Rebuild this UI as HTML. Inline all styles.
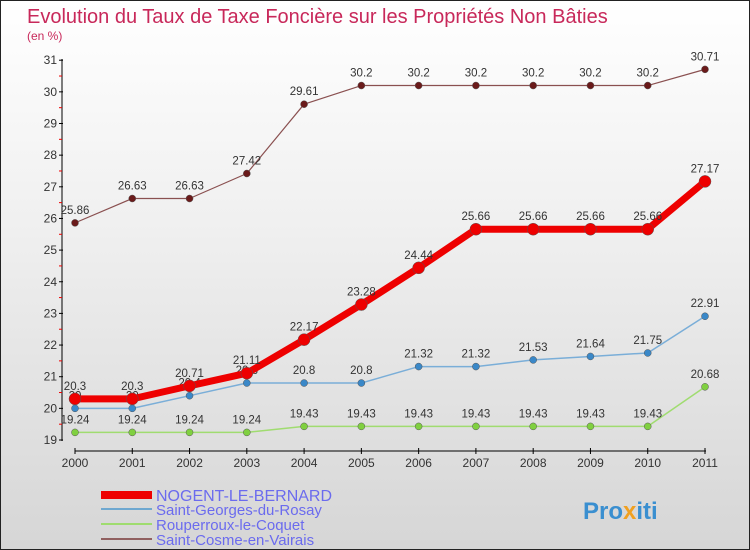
<!DOCTYPE html>
<html><head><meta charset="utf-8"><style>
body{margin:0}
#c{width:748px;height:548px;border:1px solid #222;background:linear-gradient(#fff,#f0f0f0 40%,#d6d6d6);position:relative;overflow:hidden;font-family:"Liberation Sans",sans-serif}
</style></head><body>
<div id="c">
<svg id="s" width="748" height="548">
<text x="26" y="22" font-size="20" fill="#c8285a" font-weight="300">Evolution du Taux de Taxe Foncière sur les Propriétés Non Bâties</text>
<text x="26" y="39" font-size="12" fill="#c8285a">(en %)</text>
<g id="g"></g>
<g>
<rect x="100" y="490" width="51" height="8" fill="#e00"/>
<text x="155" y="500" font-size="16" fill="#6b6bee">NOGENT-LE-BERNARD</text>
<rect x="100" y="507" width="51" height="2" fill="#6fa8d0"/>
<text x="155" y="514" font-size="15" fill="#6b6bee">Saint-Georges-du-Rosay</text>
<rect x="100" y="522" width="51" height="2" fill="#9fdc6f"/>
<text x="155" y="529" font-size="15" fill="#6b6bee">Rouperroux-le-Coquet</text>
<rect x="100" y="537" width="51" height="2" fill="#906060"/>
<text x="155" y="544" font-size="15" fill="#6b6bee">Saint-Cosme-en-Vairais</text>
</g>
<text x="582" y="518" font-size="24" font-weight="bold" fill="#3a8fd0">Pro<tspan fill="#f0a020">x</tspan>iti</text>
</svg>
</div>
<script>
const years=[2000,2001,2002,2003,2004,2005,2006,2007,2008,2009,2010,2011];
const nogent=[20.3,20.3,20.71,21.11,22.17,23.28,24.44,25.66,25.66,25.66,25.66,27.17];
const georges=[20,20,20.4,20.8,20.8,20.8,21.32,21.32,21.53,21.64,21.75,22.91];
const rouperroux=[19.24,19.24,19.24,19.24,19.43,19.43,19.43,19.43,19.43,19.43,19.43,20.68];
const cosme=[25.86,26.63,26.63,27.42,29.61,30.2,30.2,30.2,30.2,30.2,30.2,30.71];
const yTicks=[19,20,21,22,23,24,25,26,27,28,29,30,31];
const NS="http://www.w3.org/2000/svg";
const g=document.getElementById('g');
function X(i){return 74+i*(630/(years.length-1));}
function Y(v){return 439-(v-19)*31.65;}
function mk(t,a,p){const e=document.createElementNS(NS,t);for(const k in a)e.setAttribute(k,a[k]);(p||g).appendChild(e);return e;}
let ax=mk('line',{x1:61,y1:58,x2:61,y2:440,stroke:'#000'});


let xa=mk('line',{x1:74,y1:450,x2:705,y2:450,stroke:'#000'});


yTicks.forEach(v=>{
 mk('line',{x1:58,y1:Y(v),x2:62,y2:Y(v),stroke:'#000'});
 if(v<31)mk('line',{x1:58,y1:Y(v+0.5),x2:61,y2:Y(v+0.5),stroke:'#e00'});
 const t=mk('text',{x:56,y:Y(v)+4,'font-size':12,'text-anchor':'end',fill:'#333'});t.textContent=v;
 
 
});
years.forEach((y,i)=>{
 mk('line',{x1:X(i),y1:447,x2:X(i),y2:453,stroke:'#000'});
 const t=mk('text',{x:X(i),y:466,'font-size':12,'text-anchor':'middle',fill:'#333'});t.textContent=y;
 
 
});
function series(d,name,col,dot,w,r){
 const pl=mk('polyline',{points:d.map((v,i)=>X(i)+','+Y(v)).join(' '),fill:'none',stroke:col,'stroke-width':w,'stroke-linejoin':'round'});
 
 
 d.forEach((v,i)=>{
  const c=mk('circle',{cx:X(i),cy:Y(v),r:r,fill:dot,stroke:'#555','stroke-width':0.5});
  
  
  const t=mk('text',{x:X(i),y:Y(v)-9,'font-size':11.5,'text-anchor':'middle',fill:'#333'});t.textContent=v;
  
  
 });
}
series(cosme,'saint-cosme','#8a5050','#6a1a1a',1.2,3.5);
series(rouperroux,'rouperroux','#a0dc70','#80d040',1.5,3.5);
series(georges,'saint-georges','#7aaed8','#3a88c8',1.5,3.5);
series(nogent,'nogent','#ee0000','#ee0000',7,6);
</script>
</body></html>
